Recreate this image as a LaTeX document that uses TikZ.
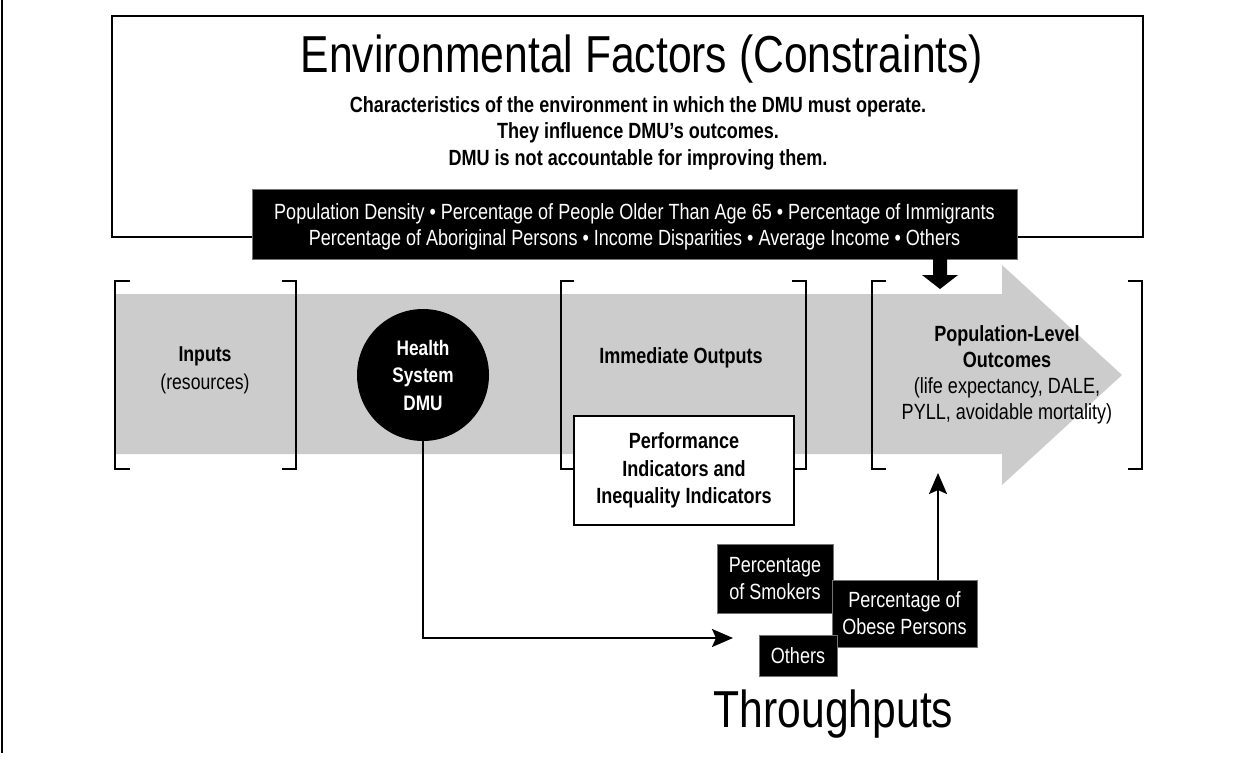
\documentclass[tikz,border=0pt]{standalone}
\usepackage{fontspec}
\setmainfont{Liberation Sans}[FakeStretch=0.82]
\usetikzlibrary{arrows.meta}
\definecolor{bandgray}{RGB}{204,204,204}
\begin{document}
\begin{tikzpicture}[x=1pt,y=-1pt,
  bracketline/.style={line width=2.6pt},
  blackbox/.style={fill=black, draw=black!55, line width=0.6pt, text=white, align=center, inner sep=0pt,
    font=\fontsize{22}{27}\selectfont},
  conn/.style={line width=2.3pt, -{Stealth[length=21pt,width=18pt,inset=4pt]}},
  lbl/.style={align=center, inner sep=0pt},
]
\useasboundingbox (0,0) rectangle (1248,761);
% page edge line
\draw[line width=2pt] (1.5,0) -- (1.5,753);

% environmental factors box
\node[draw, line width=2.4pt, fill=white, minimum width=1031pt, minimum height=221pt, inner sep=0pt] (envbox) at (627.5,126.5) {};
\node[anchor=base, inner sep=0pt, font=\fontsize{52}{60}\selectfont] (title) at (642,72) {Environmental Factors (Constraints)};
\node[lbl, font=\bfseries\fontsize{22}{26.5}\selectfont] (desc) at (638,133) {Characteristics of the environment in which the DMU must operate.\\They influence DMU’s outcomes.\\DMU is not accountable for improving them.};

% black factors box
\node[blackbox, minimum width=765pt, minimum height=70pt] (factors) at (634.5,224) {};
\node[lbl, text=white, font=\fontsize{22}{26}\selectfont] (factorstext) at (634.5,226.5)
  {Population Density • Percentage of People Older Than Age 65 • Percentage of Immigrants\\Percentage of Aboriginal Persons • Income Disparities • Average Income • Others};

% gray process arrow
\fill[bandgray] (116,294) -- (1002,294) -- (1002,265) -- (1122,375) -- (1002,485) -- (1002,454) -- (116,454) -- cycle;

% brackets
\draw[bracketline] (130,281) -- (115,281) -- (115,469) -- (130,469);
\draw[bracketline] (282,281) -- (296,281) -- (296,469) -- (282,469);
\draw[bracketline] (574,281) -- (561,281) -- (561,469) -- (574,469);
\draw[bracketline] (792,281) -- (806,281) -- (806,469) -- (792,469);
\draw[bracketline] (886,281) -- (872,281) -- (872,469) -- (886,469);
\draw[bracketline] (1128,281) -- (1142,281) -- (1142,469) -- (1128,469);

% black down arrow from factors box
\fill (933,258) -- (947,258) -- (947,275) -- (958,275) -- (940,289) -- (922,275) -- (933,275) -- cycle;

% labels on band
\node[lbl, font=\fontsize{21.5}{28}\selectfont] (inputs) at (205,370) {\textbf{Inputs}\\(resources)};
\node[lbl, font=\bfseries\fontsize{22}{27}\selectfont] (outputs) at (681,358) {Immediate Outputs};
\node[lbl, font=\fontsize{22}{26}\selectfont] (outcomes) at (1007,375)
  {\textbf{Population-Level}\\\textbf{Outcomes}\\(life expectancy, DALE,\\PYLL, avoidable mortality)};

% DMU circle
\node[circle, fill=black, minimum size=132pt, inner sep=0pt, text=white, align=center,
  font=\bfseries\fontsize{21}{27.5}\selectfont] (dmu) at (423,375) {Health\\System\\DMU};

% performance indicators box
\node[draw, fill=white, line width=2.4pt, minimum width=220pt, minimum height=109pt, inner sep=0pt, align=center,
  font=\bfseries\fontsize{22}{27.5}\selectfont] (perf) at (684,470.5) {Performance\\Indicators and\\Inequality Indicators};

% throughput boxes
\node[blackbox, minimum width=116pt, minimum height=69pt] (smokers) at (775,578.5) {Percentage\\of Smokers};
\node[blackbox, minimum width=145pt, minimum height=67pt] (obese) at (904.5,613.5) {Percentage of\\Obese Persons};
\node[blackbox, minimum width=78pt, minimum height=41pt] (others) at (798,655.5) {Others};
\node[anchor=base, inner sep=0pt, font=\fontsize{52}{60}\selectfont] (thr) at (833.5,727) {Throughputs};

% connectors
\coordinate (thrin) at (733,638);
\coordinate (popin) at (938,473);
\draw[conn] (dmu.south) |- (thrin);
\draw[conn] (obese.north -| popin) -- (popin);
\end{tikzpicture}
\end{document}
